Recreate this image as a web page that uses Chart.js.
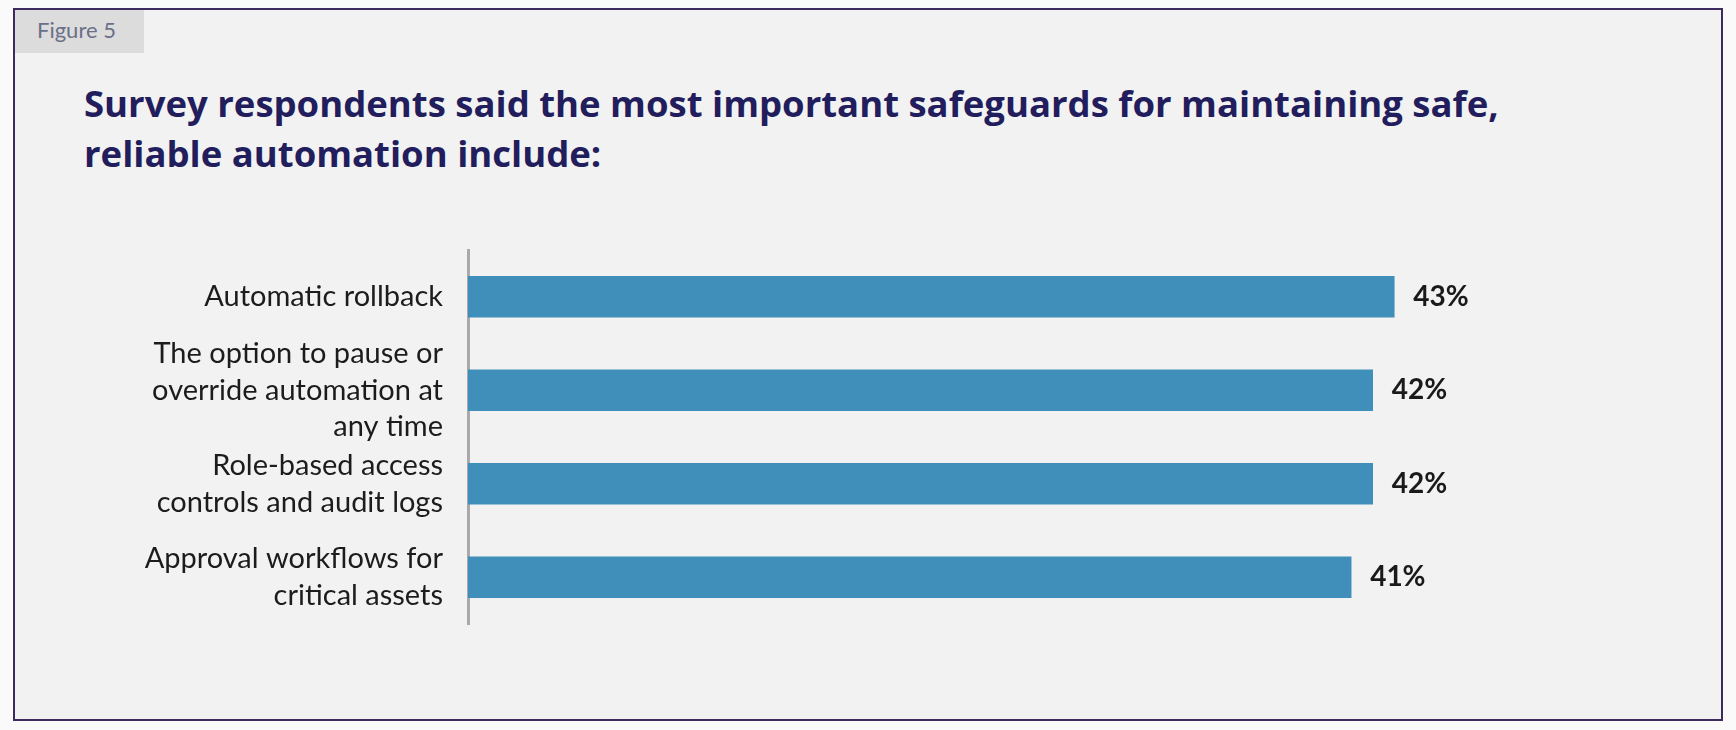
<!DOCTYPE html>
<html>
<head>
<meta charset="utf-8">
<script src="https://cdn.jsdelivr.net/npm/chart.js@4/dist/chart.umd.min.js"></script>
<style>
  html, body { margin: 0; padding: 0; background: #fafafa; }
  #frame {
    position: absolute; left: 13px; top: 8px; width: 1706px; height: 709px;
    border: 2px solid #3d2b5f; background: #f2f2f2;
  }
  #tab {
    position: absolute; left: 15px; top: 10px; width: 129px; height: 43px;
    background: #dcdcdc; color: #6a7088; font: 22px Lato, sans-serif;
    box-sizing: border-box; padding-left: 22px; line-height: 40px;
  }
  #title {
    position: absolute; left: 84px; top: 78px; white-space: nowrap;
    font: bold 36.5px/50px "Open Sans", sans-serif; color: #221d5c;
  }
  #wrap { position: absolute; left: 0; top: 0; width: 1736px; height: 730px; }
</style>
</head>
<body>
<div id="frame"></div>
<div id="tab">Figure 5</div>
<div id="title">Survey respondents said the most important safeguards for maintaining safe,<br>reliable automation include:</div>
<div id="wrap"><canvas id="chart"></canvas></div>
<script>
const categories = [
  ["Automatic rollback"],
  ["The option to pause or", "override automation at", "any time"],
  ["Role-based access", "controls and audit logs"],
  ["Approval workflows for", "critical assets"]
];
const values = [43, 42, 42, 41];

// draws "43%" etc. just past the end of each bar
const valueLabels = {
  id: 'valueLabels',
  afterDatasetsDraw(chart) {
    const ctx = chart.ctx;
    const meta = chart.getDatasetMeta(0);
    ctx.save();
    ctx.font = 'bold 28px Lato, sans-serif';
    ctx.fillStyle = '#1a1a1a';
    ctx.textAlign = 'left';
    ctx.textBaseline = 'middle';
    meta.data.forEach((bar, i) => {
      ctx.fillText(values[i] + '%', bar.x + 19, bar.y);
    });
    ctx.restore();
  }
};

new Chart(document.getElementById('chart'), {
  type: 'bar',
  data: {
    labels: categories,
    datasets: [{
      data: values,
      backgroundColor: '#3f8fba',
      borderWidth: 0,
      barThickness: 41
    }]
  },
  options: {
    indexAxis: 'y',
    responsive: true,
    maintainAspectRatio: false,
    animation: false,
    layout: { padding: { left: 0, top: 250, right: 191, bottom: 106 } },
    plugins: {
      legend: { display: false },
      tooltip: { enabled: false }
    },
    scales: {
      x: { display: false, min: 0, max: 50 },
      y: {
        afterFit: (scale) => { scale.width = 468; },
        grid: { display: false, drawTicks: false },
        border: { display: true, color: '#a9a9a9', width: 3 },
        ticks: {
          autoSkip: false,
          padding: 25,
          color: '#1c1c1c',
          font: { family: 'Lato, sans-serif', size: 29, lineHeight: 1.27 }
        }
      }
    }
  },
  plugins: [valueLabels]
});
</script>
</body>
</html>
